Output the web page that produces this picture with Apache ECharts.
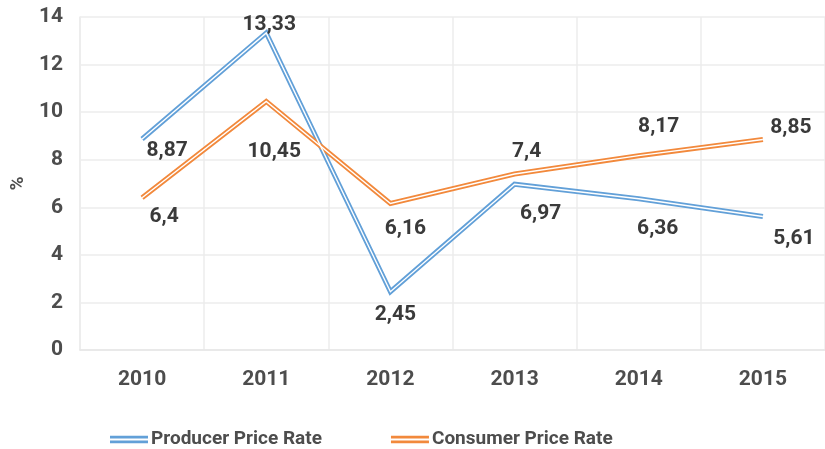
<!DOCTYPE html>
<html>
<head>
<meta charset="utf-8">
<script src="https://cdn.jsdelivr.net/npm/echarts@6/dist/echarts.min.js"></script>
<style>html,body{margin:0;padding:0;background:#fff;}#c{width:825px;height:449px;}</style>
</head>
<body>
<div id="c"></div>
<script>
const years = ['2010', '2011', '2012', '2013', '2014', '2015'];
const producer = [8.87, 13.33, 2.45, 6.97, 6.36, 5.61];
const consumer = [6.4, 10.45, 6.16, 7.4, 8.17, 8.85];
const yTicks = [0, 2, 4, 6, 8, 10, 12, 14];

// label placement (pixel offsets of each value label from its point)
const producerLabelOffset = [[25, 12], [3, -8], [5, 23], [26, 30], [19, 30], [31, 22]];
const consumerLabelOffset = [[22, 19], [8, 50], [15, 25], [12, -22], [20, -29], [28, -12]];

const FONT = 'Roboto';
const LBL = '#3a3a3a';
const AX = '#4d4d4d';
const BLUE = '#62A0D8';
const ORANGE = '#F2893C';

function fmt(v) { return String(v).replace('.', ','); }

function labeled(values, offsets) {
  return values.map((v, i) => ({ value: v, label: { offset: offsets[i] } }));
}

const labelStyle = {
  show: true,
  position: 'inside',
  fontFamily: FONT,
  fontWeight: 'bold',
  fontSize: 21,
  color: LBL,
  formatter: p => fmt(p.value)
};

const iconPath = 'path://M0,0H40V3H0Z M0,5H40V8H0Z';

const chart = echarts.init(document.getElementById('c'), null, { renderer: 'canvas' });
chart.setOption({
  animation: false,
  grid: { left: 80, right: -5, top: 17, bottom: 99, containLabel: false },
  legend: {
    data: [
      { name: 'Producer Price Rate', icon: iconPath },
      { name: 'Consumer Price Rate', icon: iconPath }
    ],
    left: 105,
    top: 425,
    itemWidth: 38,
    itemHeight: 8,
    itemGap: 69,
    textStyle: { fontFamily: FONT, fontWeight: 'bold', fontSize: 19, color: AX, padding: [0, 0, 0, -2] }
  },
  xAxis: {
    type: 'category',
    data: years,
    boundaryGap: true,
    axisLine: { show: true, lineStyle: { color: '#e6e6e6', width: 1.5 } },
    axisTick: { show: false },
    splitLine: { show: true, lineStyle: { color: '#ececec', width: 1.5 } },
    axisLabel: { fontFamily: FONT, fontWeight: 'bold', fontSize: 21, color: AX, margin: 19 }
  },
  yAxis: {
    type: 'value',
    min: 0,
    max: 14,
    interval: 2,
    name: '%',
    nameLocation: 'middle',
    nameRotate: 90,
    nameGap: 51,
    nameTextStyle: { fontFamily: FONT, fontWeight: 'bold', fontSize: 19, color: AX },
    axisLine: { show: true, lineStyle: { color: '#ececec', width: 1.5 } },
    axisTick: { show: false },
    splitLine: { show: true, lineStyle: { color: '#ececec', width: 1.5 } },
    axisLabel: { fontFamily: FONT, fontWeight: 'bold', fontSize: 21, color: AX, margin: 17,
      formatter: v => yTicks.includes(v) ? String(v) : '' }
  },
  series: [
    {
      name: 'Producer Price Rate', type: 'line', z: 3,
      data: labeled(producer, producerLabelOffset),
      symbol: 'circle', symbolSize: 0,
      itemStyle: { color: BLUE },
      lineStyle: { color: BLUE, width: 5, join: 'miter' },
      label: labelStyle
    },
    {
      name: 'p-inner', type: 'line', z: 4, silent: true,
      data: producer, symbol: 'none',
      lineStyle: { color: '#fff', width: 1.4, join: 'miter' }
    },
    {
      name: 'Consumer Price Rate', type: 'line', z: 3,
      data: labeled(consumer, consumerLabelOffset),
      symbol: 'circle', symbolSize: 0,
      itemStyle: { color: ORANGE },
      lineStyle: { color: ORANGE, width: 5, join: 'miter' },
      label: labelStyle
    },
    {
      name: 'c-inner', type: 'line', z: 4, silent: true,
      data: consumer, symbol: 'none',
      lineStyle: { color: '#fff', width: 1.4, join: 'miter' }
    }
  ]
});
</script>
</body>
</html>
